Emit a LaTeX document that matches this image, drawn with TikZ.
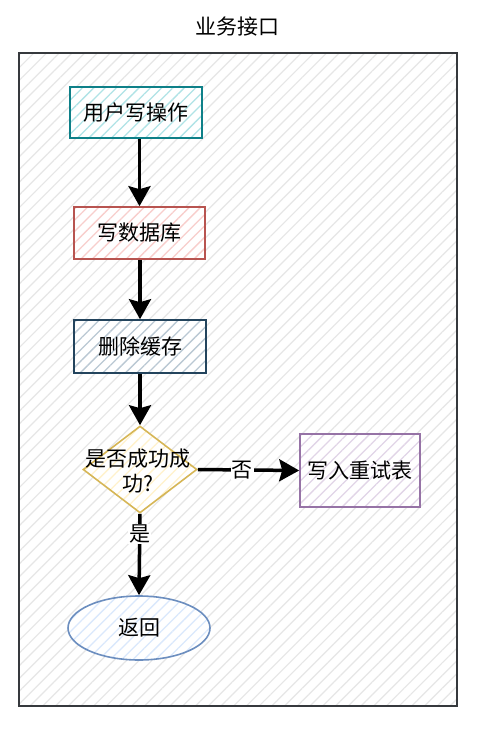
\documentclass[tikz,border=0pt]{standalone}
\usepackage{fontspec}
\setmainfont{Noto Sans CJK SC}
\usetikzlibrary{arrows.meta,shapes.geometric,patterns.meta}
\definecolor{tealS}{HTML}{0E8088}\definecolor{tealF}{HTML}{B0E3E6}
\definecolor{redS}{HTML}{B85450}\definecolor{redF}{HTML}{F8CECC}
\definecolor{navyS}{HTML}{23445D}\definecolor{navyF}{HTML}{BAC8D3}
\definecolor{yelS}{HTML}{D6B656}\definecolor{yelF}{HTML}{FFF2CC}
\definecolor{purS}{HTML}{9673A6}\definecolor{purF}{HTML}{E1D5E7}
\definecolor{bluS}{HTML}{6C8EBF}\definecolor{bluF}{HTML}{DAE8FC}
\definecolor{grayS}{HTML}{36393D}\definecolor{grayF}{HTML}{E6E6E6}
\tikzset{
  hatchbox/.style n args={2}{draw=#1, line width=1.6pt, preaction={fill=white},
     pattern={Lines[angle=45,distance=8pt,line width=1.3pt]}, pattern color=#2,
     inner sep=0pt},
  flow/.style={line width=3.5pt, -{Stealth[length=20pt,width=22pt,inset=3pt]}},
  lbl/.style={fill=white, inner sep=1pt, font=\fontsize{21}{25}\selectfont},
}
\begin{document}
\begin{tikzpicture}[x=1pt,y=-1pt,font=\fontsize{21}{25}\selectfont]
\useasboundingbox (0,0) rectangle (481,736);
\node[draw=grayS, line width=2pt, preaction={fill=white},
  pattern={Lines[angle=45,distance=9pt,line width=1.2pt]}, pattern color=grayF,
  minimum width=438pt, minimum height=653pt, inner sep=0pt] (cont) at (238,379.5) {};
\node (title) at (237,27) {业务接口};
\node[hatchbox={tealS}{tealF}, minimum width=132pt, minimum height=51pt] (b1) at (136,112.5) {用户写操作};
\node[hatchbox={redS}{redF}, minimum width=131pt, minimum height=52pt] (b2) at (139.5,233) {写数据库};
\node[hatchbox={navyS}{navyF}, minimum width=132pt, minimum height=53pt] (b3) at (140,346.5) {删除缓存};
\node[hatchbox={yelS}{yelF}, diamond, minimum width=114pt, minimum height=87pt] (d) at (140,469.5) {};
\node[align=center, inner sep=0pt, font=\fontsize{21}{25}\selectfont] (dt) at (138,471) {是否成功成\\功?};
\node[hatchbox={purS}{purF}, minimum width=120pt, minimum height=73pt] (b4) at (360,470.5) {写入重试表};
\node[hatchbox={bluS}{bluF}, ellipse, minimum width=142pt, minimum height=64pt] (e) at (139,628) {返回};
\draw[flow] (b1.south -| b2.north) -- (b2.north);
\draw[flow] (b2.south -| b3.north) -- (b3.north);
\draw[flow] (b3.south) -- (d.north);
\draw[flow] (d.east) -- node[lbl, pos=0.44] (no) {否} (b4.west);
\draw[flow] (d.south) -- node[lbl, pos=0.25] (yes) {是} (e.north);
\end{tikzpicture}
\end{document}
